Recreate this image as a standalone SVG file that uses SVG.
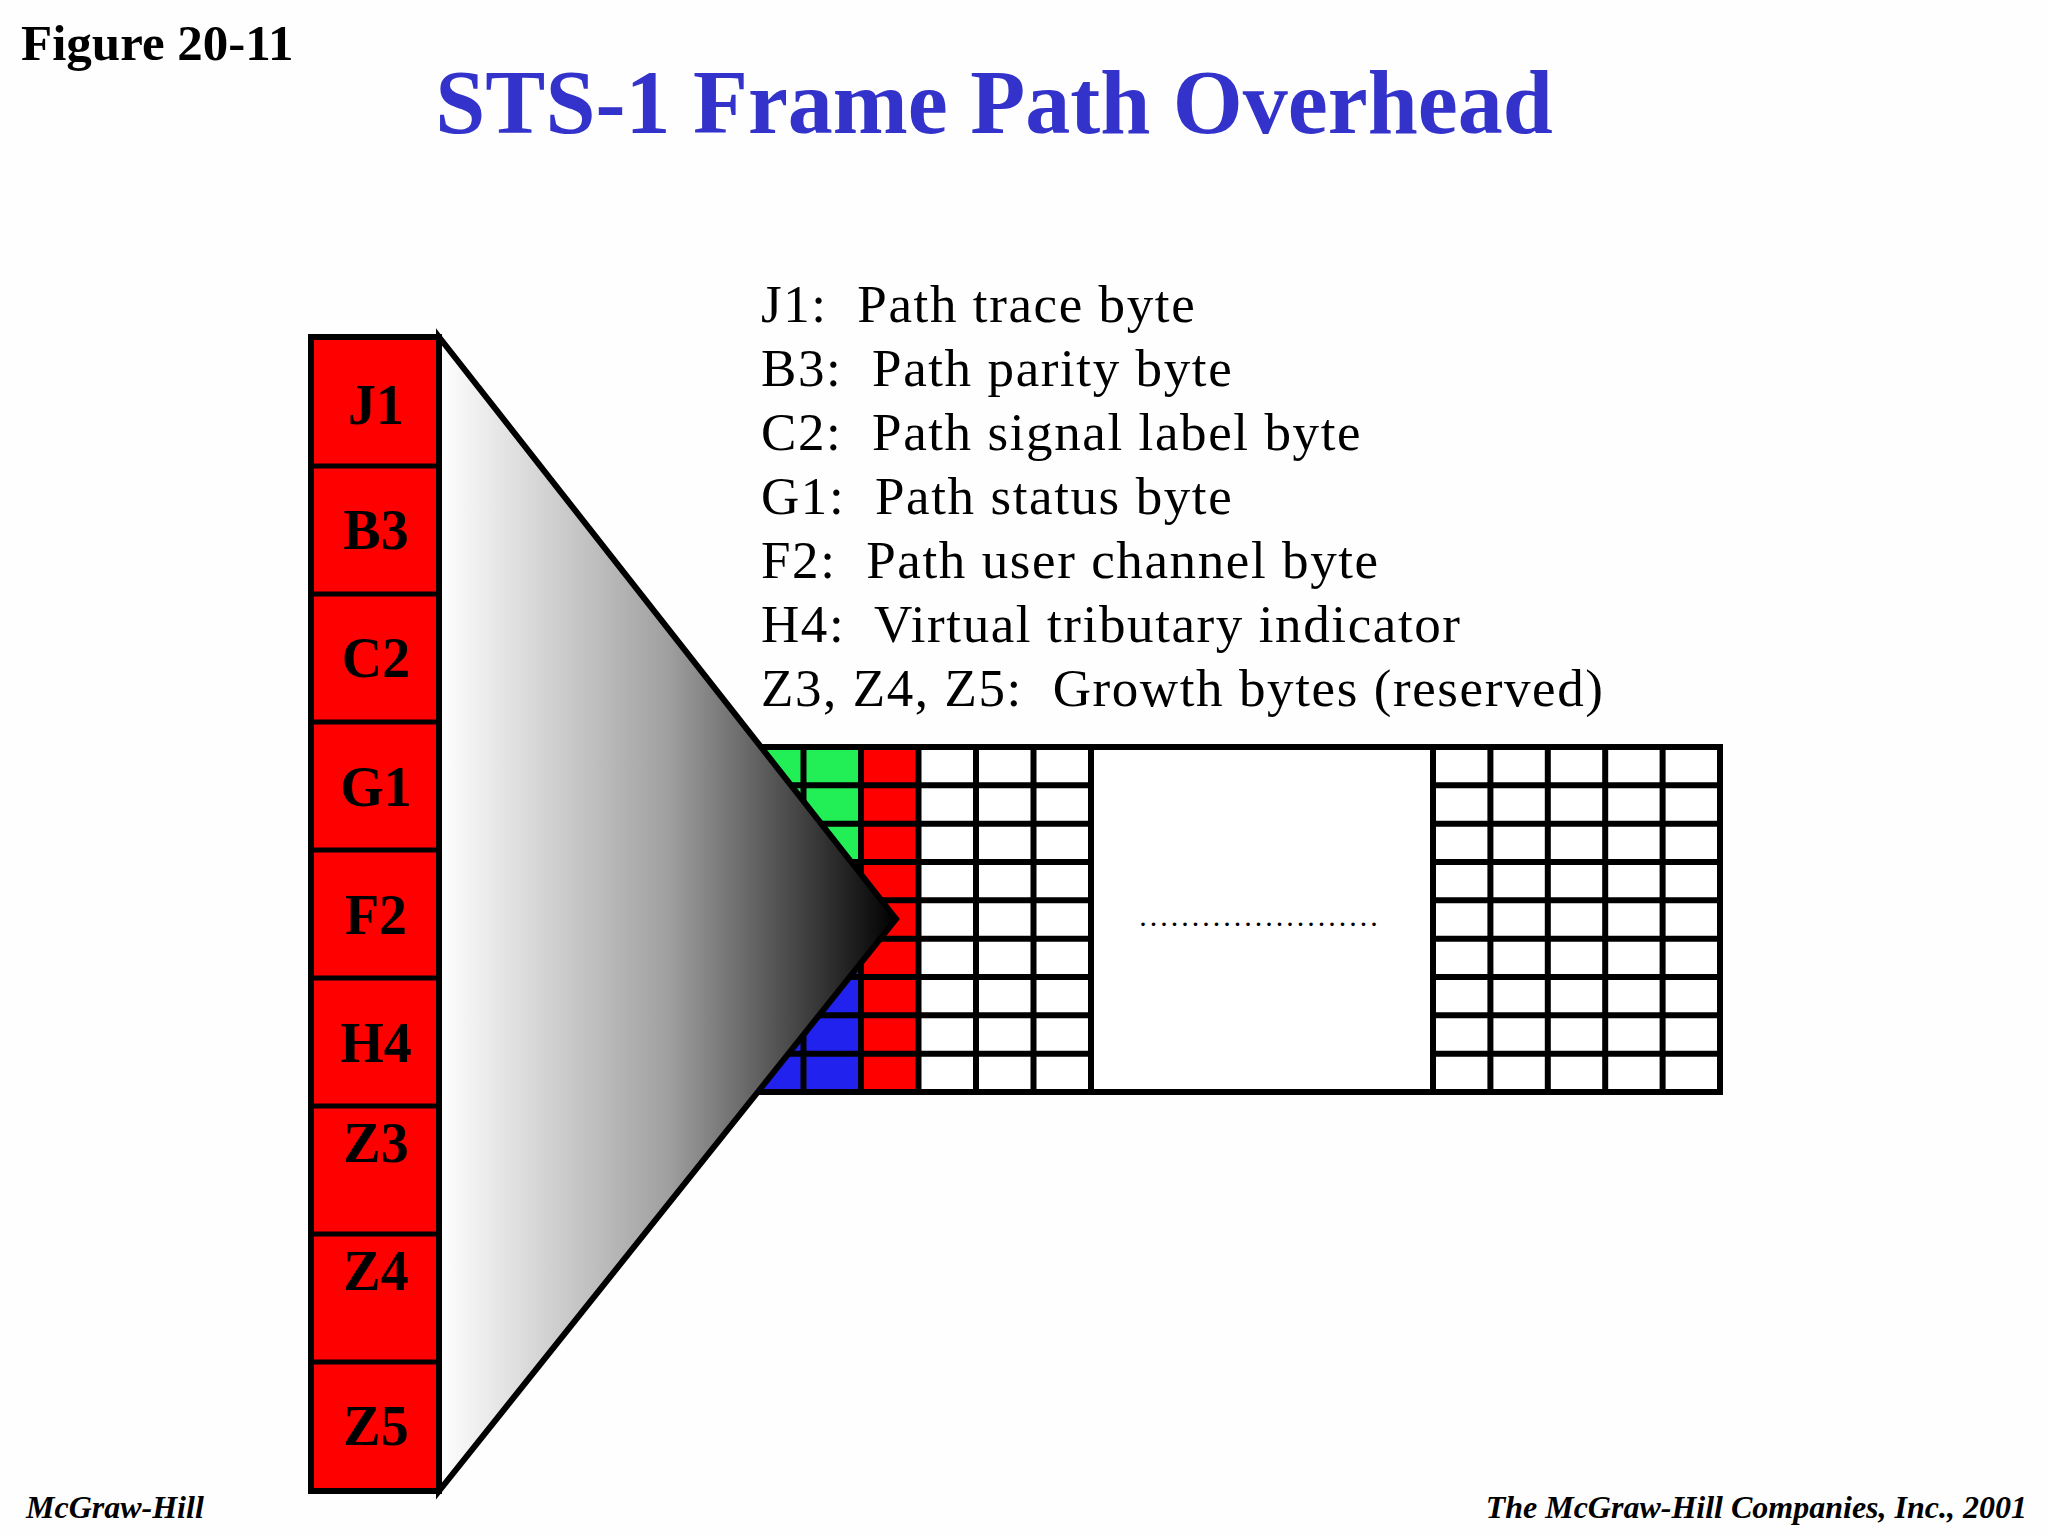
<svg xmlns="http://www.w3.org/2000/svg" width="2048" height="1536" viewBox="0 0 2048 1536">
<defs>
<linearGradient id="g" x1="0" y1="0" x2="1" y2="0">
<stop offset="0" stop-color="#ffffff"/><stop offset="0.5" stop-color="#a0a0a0"/><stop offset="1" stop-color="#000000"/>
</linearGradient>
<style>
.lbl{font-family:"Liberation Serif",serif;font-weight:bold;font-size:56px;fill:#000;text-anchor:middle}
.txt{font-family:"Liberation Serif",serif;font-size:53px;fill:#000;white-space:pre;letter-spacing:1.6px}
.c{stroke:#000;stroke-width:6}
.foot{font-family:"Liberation Serif",serif;font-style:italic;font-weight:bold;font-size:32px;fill:#000}
</style>
</defs>
<rect width="2048" height="1536" fill="#fefefe"/>
<text x="21" y="60" font-family="Liberation Serif,serif" font-weight="bold" font-size="51">Figure 20-11</text>
<text x="994" y="133" font-family="Liberation Serif,serif" font-weight="bold" font-size="90" fill="#3333cc" text-anchor="middle">STS-1 Frame Path Overhead</text>
<g id="grid">
<rect x="746" y="747" width="345" height="345" fill="#fff" class="c"/>
<g id="cells">
<rect x="746" y="747" width="115" height="115" fill="#22ee55"/>
<rect x="746" y="862" width="115" height="230" fill="#2222ee"/>
<rect x="861" y="747" width="57.5" height="345" fill="#ff0000"/>
</g>
<path class="c" fill="none" d="M803.5 747V1092M861 747V1092M918.5 747V1092M976 747V1092M1033.5 747V1092M746 785.3H1091M746 823.7H1091M746 862H1091M746 900.3H1091M746 938.7H1091M746 977H1091M746 1015.3H1091M746 1053.7H1091"/>
<rect x="746" y="747" width="345" height="345" fill="none" class="c"/>
<rect x="1091" y="747" width="342" height="345" fill="#fff" class="c"/>
<rect x="1433" y="747" width="287" height="345" fill="#fff" class="c"/>
<path class="c" fill="none" d="M1490.4 747V1092M1547.8 747V1092M1605.2 747V1092M1662.6 747V1092M1433 785.3H1720M1433 823.7H1720M1433 862H1720M1433 900.3H1720M1433 938.7H1720M1433 977H1720M1433 1015.3H1720M1433 1053.7H1720"/>
<text x="1260" y="926" font-family="Liberation Serif,serif" font-size="30" text-anchor="middle" letter-spacing="3">.......................</text>
</g>
<g id="triangle"><polygon points="439,337 896,919 439,1491" fill="url(#g)" stroke="#000" stroke-width="6"/></g>
<g id="column">
<rect x="311" y="337" width="128" height="1154" fill="#ff0000" stroke="#000" stroke-width="6"/>
<path stroke="#000" stroke-width="5" d="M311 466H439M311 594H439M311 722H439M311 850H439M311 978H439M311 1106H439M311 1234H439M311 1362H439"/>
<text class="lbl" x="376" y="424">J1</text>
<text class="lbl" x="376" y="549">B3</text>
<text class="lbl" x="376" y="677">C2</text>
<text class="lbl" x="376" y="806">G1</text>
<text class="lbl" x="376" y="934">F2</text>
<text class="lbl" x="376" y="1062">H4</text>
<text class="lbl" x="376" y="1162">Z3</text>
<text class="lbl" x="376" y="1290">Z4</text>
<text class="lbl" x="376" y="1445">Z5</text>
</g>
<g id="legend">
<text class="txt" x="761" y="322" xml:space="preserve">J1:  Path trace byte</text>
<text class="txt" x="761" y="386" xml:space="preserve">B3:  Path parity byte</text>
<text class="txt" x="761" y="450" xml:space="preserve">C2:  Path signal label byte</text>
<text class="txt" x="761" y="514" xml:space="preserve">G1:  Path status byte</text>
<text class="txt" x="761" y="578" xml:space="preserve">F2:  Path user channel byte</text>
<text class="txt" x="761" y="642" xml:space="preserve">H4:  Virtual tributary indicator</text>
<text class="txt" x="761" y="706" xml:space="preserve">Z3, Z4, Z5:  Growth bytes (reserved)</text>
</g>
<text class="foot" x="26" y="1518">McGraw-Hill</text>
<text class="foot" x="2027" y="1518" text-anchor="end">The McGraw-Hill Companies, Inc., 2001</text>
</svg>
